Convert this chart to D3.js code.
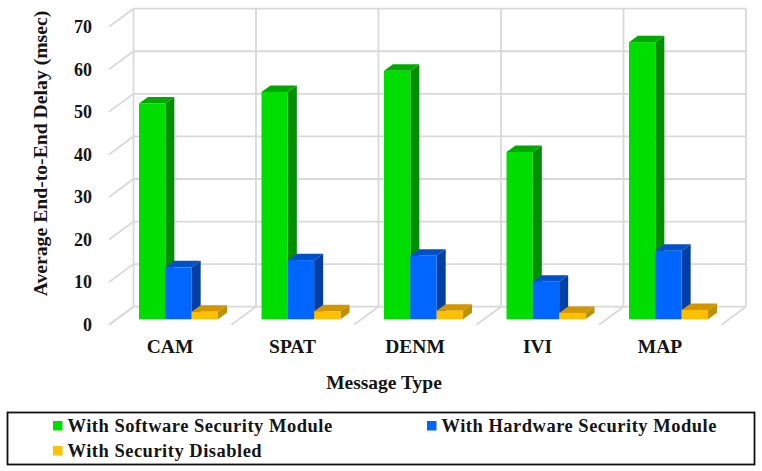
<!DOCTYPE html>
<html>
<head>
<meta charset="utf-8">
<script src="https://cdnjs.cloudflare.com/ajax/libs/d3/7.8.5/d3.min.js"></script>
<style>
body { margin: 0; background: #fff; }
text { font-family: "Liberation Serif", serif; font-weight: bold; fill: #151515; }
</style>
</head>
<body>
<div class="chart"></div>
<script>
var categories = ["CAM", "SPAT", "DENM", "IVI", "MAP"];
var seriesNames = ["With Software Security Module", "With Hardware Security Module", "With Security Disabled"];
var softwareValues = [50.7, 53.4, 58.4, 39.3, 65.1];
var hardwareValues = [12.2, 13.9, 14.9, 8.8, 16.1];
var disabledValues = [1.8, 1.9, 2.0, 1.5, 2.2];
var yTicks = [0, 10, 20, 30, 40, 50, 60, 70];

var seriesValues = [softwareValues, hardwareValues, disabledValues];
var frontColors = ["#00dd00", "#0066ff", "#ffc000"];
var sideColors = ["#008f00", "#003fa3", "#bf9000"];
var topColors = ["#00a800", "#0050c8", "#d19600"];

var width = 762, height = 471;
var gridColor = "#d9d9d9";

// wall depth (back wall to front of the floor) and bar depth
var wallDx = -24.5, wallDy = 18;
var barDx = 9, barDy = -6.5;
var barBase = 319.3;

var svg = d3.select(".chart").append("svg")
    .attr("width", width)
    .attr("height", height)
    .style("display", "block");

var yScale = d3.scaleLinear()
    .domain([0, 70])
    .range([306.7, 8.7]);

// x of the back wall
var xBack = d3.scaleBand()
    .domain(categories)
    .range([133.5, 746])
    .padding(0);

// x of the front of the floor
var xFront = d3.scaleBand()
    .domain(categories)
    .range([109, 721.5])
    .padding(0);

var xInner = d3.scaleBand()
    .domain(seriesNames)
    .range([30, 109]);

var barHeight = function(v) { return yScale(0) - yScale(v); };

// gridlines
var grid = svg.append("g")
    .attr("stroke", gridColor)
    .attr("stroke-width", 1.8)
    .attr("fill", "none");

grid.selectAll(".hline").data(yTicks).enter().append("path")
    .attr("class", "hline")
    .attr("d", function(d) {
        var y = yScale(d);
        return "M" + (133.5 + wallDx) + "," + (y + wallDy) + "L133.5," + y + "L746," + y;
    });

var edges = categories.map(function(c) { return xBack(c); }).concat([746]);

grid.selectAll(".vline").data(edges).enter().append("line")
    .attr("class", "vline")
    .attr("x1", function(d) { return d; })
    .attr("x2", function(d) { return d; })
    .attr("y1", yScale(70))
    .attr("y2", yScale(0));

grid.selectAll(".floor").data(edges).enter().append("line")
    .attr("class", "floor")
    .attr("x1", function(d) { return d; })
    .attr("y1", yScale(0))
    .attr("x2", function(d) { return d + wallDx; })
    .attr("y2", yScale(0) + wallDy);

// bars
var groups = svg.selectAll(".category").data(categories).enter().append("g")
    .attr("class", "category")
    .attr("transform", function(c) { return "translate(" + xFront(c) + ",0)"; });

groups.each(function(c, ci) {
    var g = d3.select(this);
    seriesNames.forEach(function(name, si) {
        var x = xInner(name), w = xInner.bandwidth();
        var top = barBase - barHeight(seriesValues[si][ci]);
        g.append("path")
            .attr("fill", sideColors[si])
            .attr("d", "M" + (x + w) + "," + top + "l" + barDx + "," + barDy + "V" + (barBase + barDy) + "l" + (-barDx) + "," + (-barDy) + "Z");
        g.append("path")
            .attr("fill", topColors[si])
            .attr("d", "M" + x + "," + top + "l" + barDx + "," + barDy + "h" + w + "l" + (-barDx) + "," + (-barDy) + "Z");
        g.append("rect")
            .attr("fill", frontColors[si])
            .attr("x", x)
            .attr("y", top)
            .attr("width", w)
            .attr("height", barBase - top);
    });
});

// y axis labels sit at the front edge of the side wall
var yAxis = d3.axisLeft(yScale)
    .tickValues(yTicks)
    .tickSize(0)
    .tickPadding(0);

var yAxisG = svg.append("g")
    .attr("transform", "translate(92," + wallDy + ")")
    .call(yAxis);
yAxisG.select(".domain").remove();
yAxisG.selectAll("text")
    .style("font-family", '"Liberation Serif", serif')
    .style("font-size", "18px");

// x axis labels
var xAxis = d3.axisBottom(xFront).tickSize(0).tickPadding(0);
var xAxisG = svg.append("g")
    .attr("transform", "translate(0,339)")
    .call(xAxis);
xAxisG.select(".domain").remove();
xAxisG.selectAll("text")
    .style("font-family", '"Liberation Serif", serif')
    .style("font-size", "19.5px")
    .attr("dy", "0.7em");
xAxisG.selectAll(".tick")
    .attr("transform", function(c, i) { return "translate(" + (xFront(c) + 61) + ",0)"; });

svg.append("text")
    .attr("x", 384)
    .attr("y", 389)
    .attr("text-anchor", "middle")
    .style("font-size", "19.5px")
    .text("Message Type");

svg.append("text")
    .attr("transform", "translate(47,153.5) rotate(-90)")
    .attr("text-anchor", "middle")
    .style("font-size", "19.7px")
    .text("Average End-to-End Delay (msec)");

// legend
svg.append("rect")
    .attr("x", 7.5)
    .attr("y", 412.5)
    .attr("width", 747)
    .attr("height", 52)
    .attr("fill", "#fff")
    .attr("stroke", "#111")
    .attr("stroke-width", 1.8);

var legendX = [53, 427, 53];
var legendY = [421, 421, 446];

var legend = svg.selectAll(".legend").data(seriesNames).enter().append("g")
    .attr("class", "legend")
    .attr("transform", function(d, i) { return "translate(" + legendX[i] + "," + legendY[i] + ")"; });

legend.append("rect")
    .attr("width", 9.5)
    .attr("height", 9.5)
    .attr("fill", function(d, i) { return frontColors[i]; });

legend.append("text")
    .attr("x", 14.5)
    .attr("y", 11)
    .style("font-size", "18.5px")
    .style("letter-spacing", "0.5px")
    .text(function(d) { return d; });
</script>
</body>
</html>
